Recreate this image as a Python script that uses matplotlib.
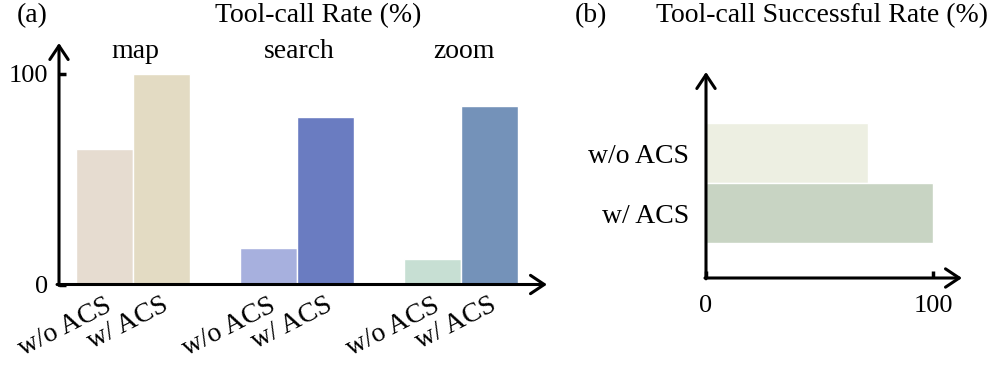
import numpy as np
import matplotlib
matplotlib.use('Agg')
import matplotlib.pyplot as plt

plt.rcParams['font.family'] = ['Liberation Serif', 'DejaVu Serif']
plt.rcParams['font.size'] = 20

# Datos del panel (a): tasa de llamadas a herramientas
tools = ['map', 'search', 'zoom']
variants = ['w/o ACS', 'w/ ACS']
rate_wo = [64.4, 17.3, 12.1]
rate_w = [100, 79.6, 84.8]
colors_wo = ['#e6dcd0', '#a7b0de', '#c7dfd3']
colors_w = ['#e3dbc3', '#6a7cc1', '#7492b9']

# Datos del panel (b): tasa de éxito
succ_labels = ['w/o ACS', 'w/ ACS']
succ_values = [71.5, 100]
succ_colors = ['#edefe2', '#c8d4c3']

W, H = 996, 365
fig = plt.figure(figsize=(W / 100, H / 100), dpi=100)


def arrow_axes(ax):
    for s in ax.spines.values():
        s.set_visible(False)
    kw = dict(xycoords='axes fraction', textcoords='axes fraction',
              arrowprops=dict(arrowstyle='->,head_length=0.45,head_width=0.3',
                              lw=2.2, color='black', shrinkA=0, shrinkB=0,
                              mutation_scale=22),
              annotation_clip=False)
    ax.annotate('', xy=(1, 0), xytext=(-0.004, 0), **kw)
    ax.annotate('', xy=(0, 1), xytext=(0, -0.004), **kw)


# (a) barras verticales
ax1 = fig.add_axes([59 / W, 80.5 / H, (547 - 59) / W, (284.5 - 43) / H])
x = np.arange(len(tools))
bw = 0.345
ax1.bar(x - bw / 2, rate_wo, bw, color=colors_wo, edgecolor='white', lw=1)
ax1.bar(x + bw / 2, rate_w, bw, color=colors_w, edgecolor='white', lw=1)
ax1.set_xlim(-0.451, 2.524)
ax1.set_ylim(0, 114.7)
arrow_axes(ax1)
ax1.set_yticks([0, 100])
ax1.tick_params(axis='y', direction='in', length=5, width=2.5, pad=8, labelsize=19)
ticks = np.concatenate([x - bw / 2, x + bw / 2])
ax1.set_xticks(ticks)
ax1.set_xticklabels([variants[0]] * 3 + [variants[1]] * 3, rotation=27,
                    ha='right', va='top', rotation_mode='anchor')
ax1.tick_params(axis='x', length=0, pad=6)
for i, t in enumerate(tools):
    ax1.text(x[i] + 0.015, 107.5, t, ha='center', va='baseline')

# (b) barras horizontales
ax2 = fig.add_axes([706 / W, 87 / H, (962 - 706) / W, (278 - 72) / H])
ax2.barh([1, 0], succ_values, height=1, color=succ_colors, edgecolor='white', lw=1)
ax2.set_xlim(0, 112.8)
ax2.set_ylim(-1.083, 2.35)
arrow_axes(ax2)
ax2.set_xticks([0, 100])
ax2.tick_params(axis='x', direction='in', length=5, width=2.5, pad=12, labelsize=19)
ax2.set_yticks([1, 0])
ax2.set_yticklabels(succ_labels)
ax2.tick_params(axis='y', length=0, pad=12)

fig.text(17 / W, (H - 22) / H, '(a)', ha='left', va='baseline')
fig.text(318 / W, (H - 22) / H, 'Tool-call Rate (%)', ha='center', va='baseline')
fig.text(575 / W, (H - 22) / H, '(b)', ha='left', va='baseline')
fig.text(822 / W, (H - 22) / H, 'Tool-call Successful Rate (%)', ha='center', va='baseline')

fig.savefig('out.png', dpi=100)
